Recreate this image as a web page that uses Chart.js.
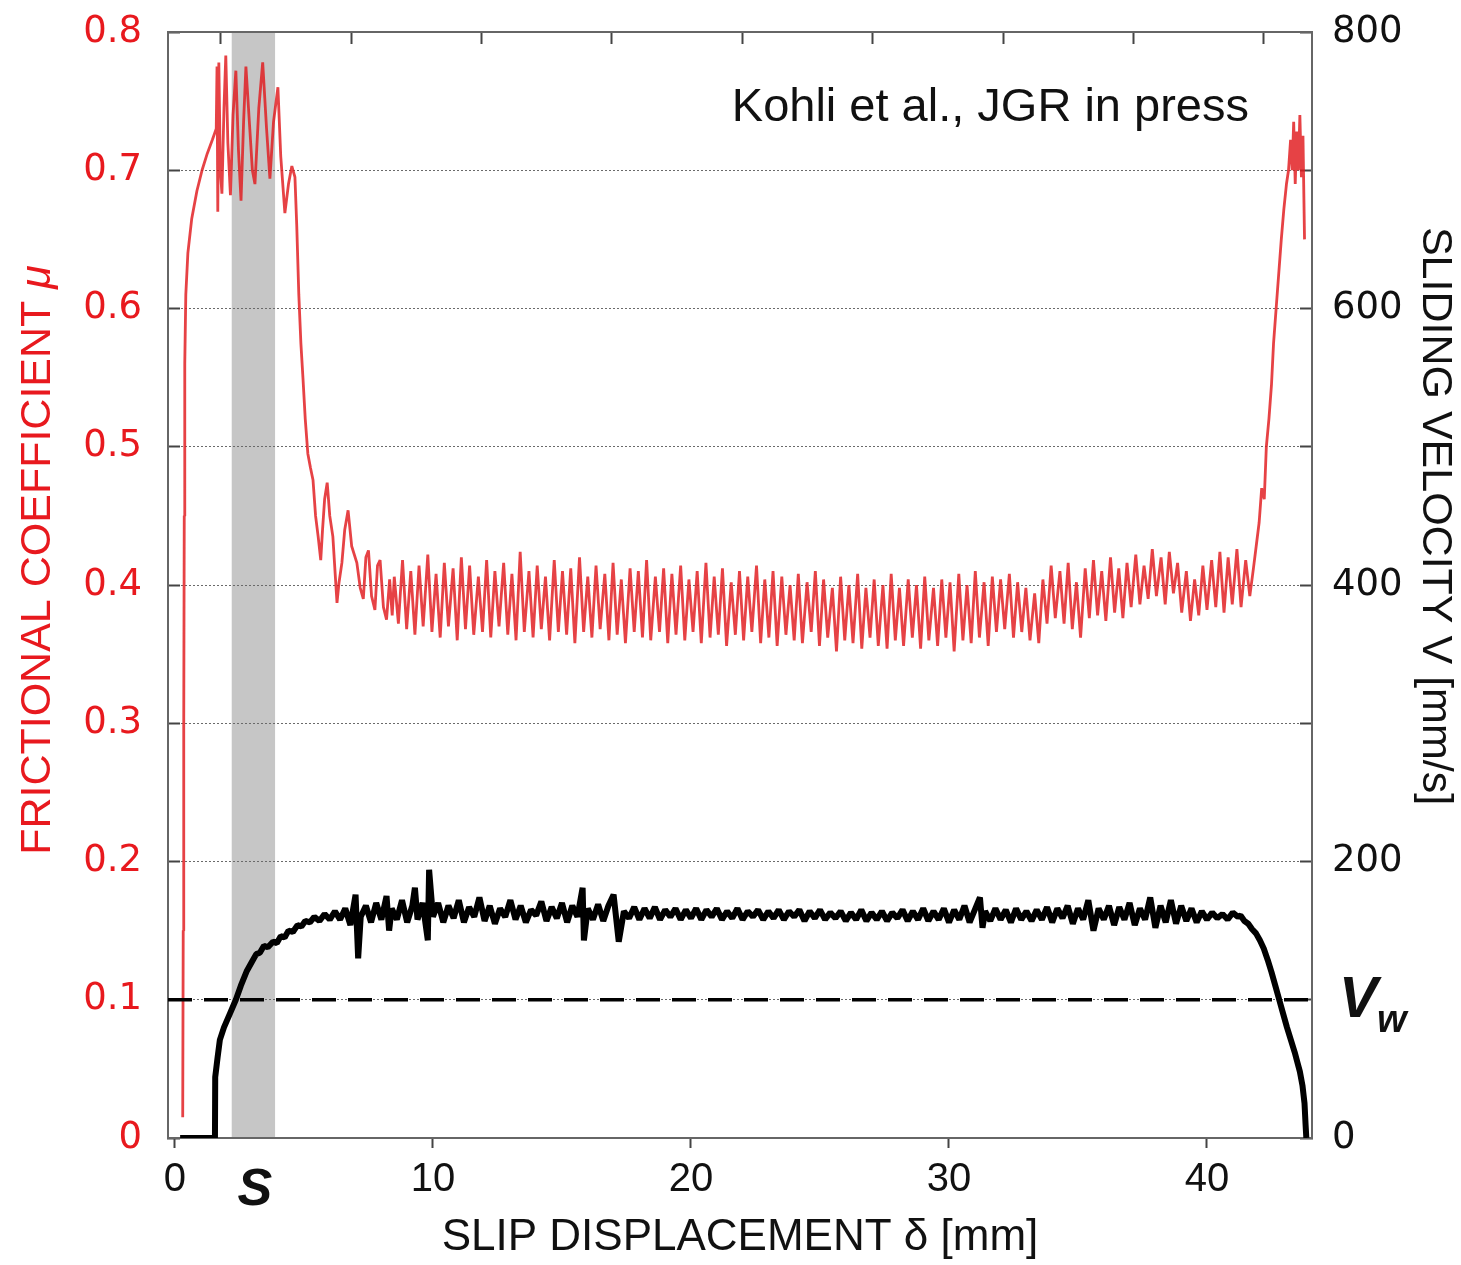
<!DOCTYPE html>
<html>
<head>
<meta charset="utf-8">
<title>Frictional coefficient and sliding velocity</title>
<script src="https://cdn.jsdelivr.net/npm/chart.js@4.4.0/dist/chart.umd.min.js"></script>
<style>
  html, body { margin: 0; padding: 0; background: #fff; }
  #wrap { width: 1461px; height: 1265px; }
</style>
</head>
<body>
<div id="wrap"><canvas id="chart" width="1461" height="1265"></canvas></div>
<script>
// slip displacement [mm] and frictional coefficient (red trace)
const redX = [
  0.30, 0.32, 0.34, 0.36, 0.38, 0.42, 0.50, 0.65, 0.85, 1.05, 1.25, 1.45, 1.60,
  1.63, 1.66, 1.70, 1.76, 1.82, 1.90, 1.97, 2.05, 2.15, 2.25, 2.36, 2.46, 2.56, 2.66, 2.75,
  2.90, 3.00, 3.10, 3.25, 3.40, 3.55, 3.68, 3.82, 3.99, 4.10, 4.26, 4.40, 4.53, 4.65,
  4.72, 4.80, 4.88, 4.96, 5.05, 5.15, 5.25, 5.35, 5.45, 5.55, 5.65, 5.72, 5.80, 5.90,
  6.00, 6.12, 6.22, 6.28, 6.36, 6.47, 6.58, 6.71, 6.85, 7.05, 7.18, 7.30, 7.40, 7.50,
  7.62, 7.75, 7.85, 7.95, 8.08, 8.20, 8.32, 8.42,
  8.50, 8.66, 8.82, 8.98, 9.14, 9.30, 9.46, 9.62, 9.80, 9.96,
  10.12, 10.28, 10.44, 10.60, 10.78, 10.94, 11.10, 11.26, 11.42, 11.58,
  11.76, 11.92, 12.08, 12.24, 12.40, 12.56, 12.74, 12.90, 13.06, 13.22,
  13.38, 13.54, 13.72, 13.88, 14.04, 14.20, 14.36, 14.52, 14.70, 14.86,
  15.02, 15.18, 15.34, 15.50, 15.68, 15.84, 16.00, 16.16, 16.32, 16.48,
  16.66, 16.82, 16.98, 17.14, 17.30, 17.46, 17.64, 17.80, 17.96, 18.12,
  18.28, 18.44, 18.62, 18.78, 18.94, 19.10, 19.26, 19.42, 19.60, 19.76,
  19.92, 20.08, 20.24, 20.40, 20.58, 20.74, 20.90, 21.06, 21.22, 21.38,
  21.56, 21.72, 21.88, 22.04, 22.20, 22.36, 22.54, 22.70, 22.86, 23.02,
  23.18, 23.34, 23.52, 23.68, 23.84, 24.00, 24.16, 24.32, 24.50, 24.66,
  24.82, 24.98, 25.14, 25.30, 25.48, 25.64, 25.80, 25.96, 26.12, 26.28,
  26.46, 26.62, 26.78, 26.94, 27.10, 27.26, 27.44, 27.60, 27.76, 27.92,
  28.08, 28.24, 28.42, 28.58, 28.74, 28.90, 29.06, 29.22, 29.40, 29.56,
  29.72, 29.88, 30.04, 30.20, 30.38, 30.54, 30.70, 30.86, 31.02, 31.18,
  31.36, 31.52, 31.68, 31.84, 32.00, 32.16, 32.34, 32.50, 32.66, 32.82,
  32.98, 33.14, 33.32, 33.48, 33.64, 33.80, 33.96, 34.12, 34.30, 34.46,
  34.62, 34.78, 34.94, 35.10, 35.28, 35.44, 35.60, 35.76, 35.92, 36.08,
  36.26, 36.42, 36.58, 36.74, 36.90, 37.06, 37.24, 37.40, 37.56, 37.72,
  37.88, 38.04, 38.22, 38.38, 38.54, 38.70, 38.86, 39.02, 39.20, 39.36,
  39.52, 39.68, 39.84, 40.00, 40.18, 40.34, 40.50, 40.66, 40.82, 40.98,
  41.16, 41.32, 41.50, 41.66,
  41.80, 41.92, 42.02, 42.12, 42.22, 42.30, 42.40, 42.50, 42.58, 42.68, 42.78, 42.88, 42.98,
  43.08, 43.16, 43.24, 43.30, 43.36, 43.42, 43.48, 43.54, 43.60, 43.66, 43.72, 43.78
];
const redMu = [
  0.015, 0.15, 0.30, 0.45, 0.56, 0.61, 0.64, 0.665, 0.685, 0.70, 0.712, 0.722, 0.73,
  0.775, 0.67, 0.778, 0.70, 0.683, 0.745, 0.783, 0.72, 0.682, 0.74, 0.772, 0.715, 0.678, 0.735, 0.775,
  0.73, 0.70, 0.69, 0.745, 0.778, 0.73, 0.694, 0.735, 0.76, 0.71, 0.669, 0.69, 0.703, 0.695,
  0.660, 0.610, 0.575, 0.550, 0.520, 0.495, 0.485, 0.476, 0.450, 0.435, 0.418, 0.440, 0.462, 0.474,
  0.450, 0.435, 0.405, 0.387, 0.402, 0.416, 0.440, 0.454, 0.428, 0.416, 0.398, 0.390, 0.420, 0.425,
  0.392, 0.382, 0.414, 0.418, 0.384, 0.375, 0.404, 0.378,
  0.406, 0.372, 0.418, 0.368, 0.410, 0.364, 0.414, 0.370, 0.422, 0.366,
  0.408, 0.362, 0.416, 0.370, 0.412, 0.360, 0.420, 0.368, 0.414, 0.364,
  0.406, 0.366, 0.418, 0.362, 0.410, 0.370, 0.416, 0.364, 0.408, 0.360,
  0.424, 0.366, 0.410, 0.362, 0.414, 0.368, 0.406, 0.360, 0.418, 0.366,
  0.410, 0.364, 0.412, 0.358, 0.420, 0.366, 0.406, 0.362, 0.414, 0.368,
  0.408, 0.360, 0.416, 0.364, 0.404, 0.358, 0.412, 0.366, 0.410, 0.362,
  0.418, 0.360, 0.406, 0.366, 0.412, 0.358, 0.408, 0.364, 0.414, 0.360,
  0.404, 0.366, 0.410, 0.358, 0.416, 0.362, 0.406, 0.364, 0.412, 0.356,
  0.402, 0.364, 0.410, 0.360, 0.406, 0.366, 0.414, 0.358, 0.404, 0.362,
  0.410, 0.356, 0.406, 0.364, 0.400, 0.360, 0.408, 0.358, 0.402, 0.366,
  0.410, 0.356, 0.404, 0.362, 0.398, 0.352, 0.406, 0.360, 0.400, 0.358,
  0.408, 0.354, 0.398, 0.362, 0.404, 0.356, 0.400, 0.354, 0.408, 0.360,
  0.398, 0.356, 0.404, 0.362, 0.400, 0.354, 0.406, 0.360, 0.398, 0.356,
  0.404, 0.362, 0.402, 0.352, 0.408, 0.360, 0.400, 0.358, 0.410, 0.362,
  0.402, 0.356, 0.406, 0.366, 0.404, 0.368, 0.408, 0.362, 0.402, 0.366,
  0.398, 0.360, 0.394, 0.358, 0.404, 0.372, 0.414, 0.376, 0.410, 0.372,
  0.416, 0.368, 0.402, 0.362, 0.412, 0.376, 0.418, 0.378, 0.410, 0.374,
  0.420, 0.380, 0.412, 0.376, 0.416, 0.384, 0.422, 0.386, 0.414, 0.390,
  0.426, 0.392, 0.420, 0.386, 0.424, 0.394, 0.416, 0.380, 0.410, 0.374,
  0.404, 0.378, 0.414, 0.382, 0.418, 0.384, 0.424, 0.380, 0.420, 0.386,
  0.426, 0.384, 0.418, 0.392,
  0.412, 0.430, 0.445, 0.470, 0.462, 0.500, 0.520, 0.545, 0.575, 0.600, 0.625, 0.650, 0.672,
  0.690, 0.700, 0.722, 0.700, 0.735, 0.690, 0.728, 0.700, 0.740, 0.695, 0.725, 0.650
];

// slip displacement [mm] and sliding velocity [mm/s] (black trace)
const blackX = [
  0.20, 1.55, 1.56, 1.65, 1.74, 1.90, 2.13, 2.36, 2.55, 2.79,
  3.00, 3.15, 3.29, 3.45, 3.60, 3.80, 3.95, 4.10, 4.25, 4.40,
  4.57, 4.75, 4.90, 5.05, 5.23, 5.40, 5.60, 5.80, 6.00, 6.20,
  6.40,
  6.60, 6.80, 7.00, 7.10, 7.20, 7.40, 7.60, 7.80, 8.00, 8.20,
  8.30, 8.40, 8.60, 8.80, 9.00, 9.20, 9.30, 9.40, 9.60, 9.80,
  9.85, 10.00, 10.20, 10.40, 10.60, 10.80, 11.00, 11.20, 11.40, 11.60,
  11.80, 12.00, 12.20, 12.40, 12.60, 12.80, 13.00, 13.20, 13.40, 13.60,
  13.80, 14.00, 14.20, 14.40, 14.60, 14.80, 15.00, 15.20, 15.40, 15.60,
  15.80, 15.85, 16.00, 16.20, 16.40, 16.60, 16.80, 17.00, 17.20, 17.40,
  17.60, 17.80, 18.00, 18.20, 18.40, 18.60, 18.80, 19.00, 19.20, 19.40,
  19.60, 19.80, 20.00, 20.20, 20.40, 20.60, 20.80, 21.00, 21.20, 21.40,
  21.60, 21.80, 22.00, 22.20, 22.40, 22.60, 22.80, 23.00, 23.20, 23.40,
  23.60, 23.80, 24.00, 24.20, 24.40, 24.60, 24.80, 25.00, 25.20, 25.40,
  25.60, 25.80, 26.00, 26.20, 26.40, 26.60, 26.80, 27.00, 27.20, 27.40,
  27.60, 27.80, 28.00, 28.20, 28.40, 28.60, 28.80, 29.00, 29.20, 29.40,
  29.60, 29.80, 30.00, 30.20, 30.40, 30.60, 30.80, 31.00, 31.20, 31.30,
  31.40, 31.60, 31.80, 32.00, 32.20, 32.40, 32.60, 32.80, 33.00, 33.20,
  33.40, 33.60, 33.80, 34.00, 34.20, 34.40, 34.60, 34.80, 35.00, 35.20,
  35.40, 35.60, 35.80, 36.00, 36.20, 36.40, 36.60, 36.80, 37.00, 37.20,
  37.40, 37.60, 37.80, 38.00, 38.20, 38.40, 38.60, 38.80, 39.00, 39.20,
  39.40, 39.60, 39.80, 40.00, 40.20, 40.40, 40.60, 40.80, 41.00, 41.20,
  41.30, 41.45, 41.60, 41.75, 41.90, 42.05, 42.20, 42.35, 42.50, 42.65,
  42.80, 42.95, 43.10, 43.25, 43.40, 43.50, 43.60, 43.70, 43.78, 43.82, 43.85
];
const blackV = [
  0, 0, 44, 58, 71, 80, 90, 100, 110, 121,
  128, 133, 134, 139, 138, 142, 141, 146, 145, 150,
  149, 154, 153, 157, 156, 160, 157, 162, 158, 164,
  158,
  166, 154, 176, 130, 160, 168, 156, 170, 158, 175,
  150, 166, 158, 172, 156, 168, 181, 158, 170, 143,
  194, 160, 170, 156, 168, 159, 172, 156, 167, 160,
  174, 157, 168, 155, 166, 160, 172, 158, 168, 156,
  165, 161, 171, 157, 167, 159, 170, 156, 168, 160,
  181, 143, 166, 158, 169, 157, 168, 176, 142, 164,
  159, 167, 158, 166, 159, 167, 158, 165, 160, 166,
  158, 165, 159, 166, 158, 165, 160, 166, 158, 164,
  159, 166, 158, 164, 160, 165, 158, 164, 159, 165,
  158, 164, 160, 165, 157, 164, 159, 165, 158, 163,
  159, 164, 157, 163, 158, 165, 157, 163, 158, 164,
  157, 163, 159, 165, 157, 164, 158, 166, 157, 164,
  158, 166, 156, 165, 158, 168, 156, 165, 174, 152,
  164, 157, 166, 158, 165, 156, 166, 158, 164, 157,
  165, 158, 167, 156, 166, 159, 168, 155, 166, 158,
  172, 150, 166, 158, 168, 154, 167, 158, 170, 154,
  166, 158, 174, 152, 168, 156, 172, 155, 168, 157,
  166, 156, 164, 158, 163, 159, 162, 158, 163, 160,
  161, 157, 155, 151, 148, 143, 137, 129, 120, 110,
  100, 90, 80, 71, 62, 55, 48, 38, 25, 10, 0
];

const vwLevel = 100;          // mm/s, dashed line
const shadeBand = [2.2, 3.88]; // mm, grey band "S"
const xRange = [-0.27, 44.07];
const topTickRange = [-0.406, 8.37];

const RED = '#e8191e';
const toPoints = (xs, ys) => xs.map((x, i) => ({ x, y: ys[i] }));

// fixed axis boxes so the plot area lands where the original one is
const fixBox = (w, h) => (s) => {
  if (w != null) s.width = w;
  if (h != null) s.height = h;
  s.paddingTop = 0;
  s.paddingBottom = 0;
  s.paddingLeft = 0;
  s.paddingRight = 0;
};

const annotations = {
  id: 'annotations',
  beforeDraw(chart) {
    const { ctx, chartArea, scales } = chart;
    const x0 = scales.x.getPixelForValue(shadeBand[0]);
    const x1 = scales.x.getPixelForValue(shadeBand[1]);
    ctx.save();
    ctx.fillStyle = '#c6c6c6';
    ctx.fillRect(x0, chartArea.top, x1 - x0, chartArea.bottom - chartArea.top);
    ctx.restore();
  },
  afterDraw(chart) {
    const { ctx, chartArea, scales } = chart;
    ctx.save();
    ctx.fillStyle = '#111';
    ctx.textBaseline = 'alphabetic';

    ctx.font = '47px "Liberation Sans", Arial, sans-serif';
    ctx.textAlign = 'right';
    ctx.fillText('Kohli et al., JGR in press', chartArea.right - 63, 121);

    ctx.font = 'italic bold 52px "Liberation Sans", Arial, sans-serif';
    ctx.textAlign = 'center';
    ctx.fillText('S', scales.x.getPixelForValue(3.1), 1205);

    ctx.textAlign = 'left';
    ctx.font = 'italic bold 58px "Liberation Sans", Arial, sans-serif';
    ctx.fillText('V', chartArea.right + 27, 1017);
    ctx.font = 'italic bold 38px "Liberation Sans", Arial, sans-serif';
    ctx.fillText('w', chartArea.right + 65, 1032);

    // left axis title with italic mu
    ctx.save();
    ctx.translate(38, 560);
    ctx.rotate(-Math.PI / 2);
    ctx.textBaseline = 'middle';
    ctx.fillStyle = RED;
    const plain = 'FRICTIONAL COEFFICIENT ';
    ctx.font = '43px "Liberation Sans", Arial, sans-serif';
    const w1 = ctx.measureText(plain).width;
    ctx.font = 'italic 43px "Liberation Sans", Arial, sans-serif';
    const w2 = ctx.measureText('μ').width;
    ctx.font = '43px "Liberation Sans", Arial, sans-serif';
    ctx.fillText(plain, -(w1 + w2) / 2, 0);
    ctx.font = 'italic 43px "Liberation Sans", Arial, sans-serif';
    ctx.fillText('μ', -(w1 + w2) / 2 + w1, 0);
    ctx.restore();

    // right axis title
    ctx.save();
    ctx.translate(chartArea.right + 123, 516);
    ctx.rotate(Math.PI / 2);
    ctx.textBaseline = 'middle';
    ctx.textAlign = 'center';
    ctx.fillStyle = '#111';
    ctx.font = '43px "Liberation Sans", Arial, sans-serif';
    ctx.fillText('SLIDING VELOCITY V [mm/s]', 0, 0);
    ctx.restore();

    ctx.restore();
  }
};

new Chart(document.getElementById('chart'), {
  type: 'line',
  data: {
    datasets: [
      {
        label: 'Vw',
        data: [{ x: xRange[0], y: vwLevel }, { x: xRange[1], y: vwLevel }],
        yAxisID: 'y2',
        borderColor: '#000',
        borderWidth: 3.5,
        borderDash: [24, 12],
        pointRadius: 0,
      },
      {
        label: 'Sliding velocity',
        data: toPoints(blackX, blackV),
        yAxisID: 'y2',
        borderColor: '#000',
        borderWidth: 6,
        borderJoinStyle: 'bevel',
        pointRadius: 0,
      },
      {
        label: 'Frictional coefficient',
        data: toPoints(redX, redMu),
        yAxisID: 'y',
        borderColor: 'rgba(224, 24, 28, 0.82)',
        borderWidth: 2.8,
        borderJoinStyle: 'bevel',
        pointRadius: 0,
      },
    ],
  },
  options: {
    responsive: false,
    animation: false,
    devicePixelRatio: 1,
    layout: { padding: 0 },
    plugins: { legend: { display: false }, tooltip: { enabled: false } },
    scales: {
      x: {
        type: 'linear',
        position: 'bottom',
        min: xRange[0],
        max: xRange[1],
        afterFit: fixBox(null, 127),
        ticks: {
          stepSize: 10,
          includeBounds: false,
          maxRotation: 0,
          color: '#111',
          padding: 8,
          font: { family: '"Liberation Sans", Arial, sans-serif', size: 40 },
        },
        grid: { drawOnChartArea: false, tickLength: 10, tickColor: '#444', tickWidth: 2 },
        border: { color: '#666', width: 2 },
        title: {
          display: true,
          text: 'SLIP DISPLACEMENT δ [mm]',
          color: '#111',
          padding: { top: 0, bottom: 1 },
          font: { family: '"Liberation Sans", Arial, sans-serif', size: 44 },
        },
      },
      x2: {
        type: 'linear',
        position: 'top',
        min: topTickRange[0],
        max: topTickRange[1],
        afterFit: fixBox(null, 32),
        ticks: { stepSize: 1, includeBounds: false, display: false },
        grid: { drawOnChartArea: false, tickLength: -12, tickColor: '#444', tickWidth: 2 },
        border: { color: '#666', width: 2 },
      },
      y: {
        position: 'left',
        min: 0,
        max: 0.8,
        afterFit: fixBox(168, null),
        ticks: {
          stepSize: 0.1,
          color: RED,
          padding: 38,
          font: { family: '"DejaVu Sans", Verdana, sans-serif', size: 37 },
        },
        grid: { color: '#6a6a6a', lineWidth: 1, tickLength: -12, tickColor: '#444', tickWidth: 2 },
        border: { color: '#666', width: 2, dash: [2, 2] },
      },
      y2: {
        position: 'right',
        min: 0,
        max: 800,
        afterFit: fixBox(149, null),
        ticks: {
          stepSize: 100,
          color: '#111',
          padding: 32,
          font: { family: '"DejaVu Sans", Verdana, sans-serif', size: 37 },
          callback: (v) => (v % 200 === 0 ? v : ''),
        },
        grid: { drawOnChartArea: false, tickLength: -12, tickColor: '#444', tickWidth: 2 },
        border: { color: '#666', width: 2 },
      },
    },
  },
  plugins: [annotations],
});
</script>
</body>
</html>
